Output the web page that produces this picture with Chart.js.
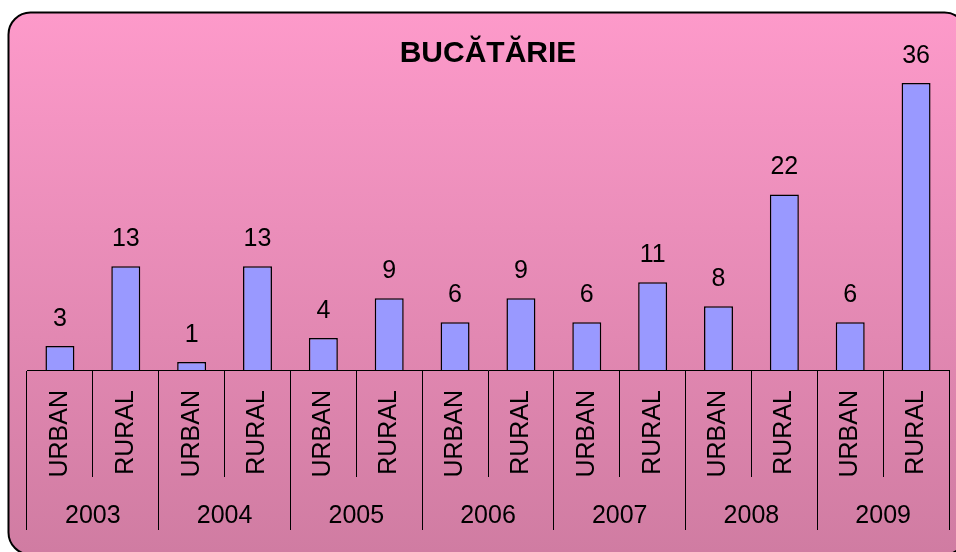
<!DOCTYPE html>
<html>
<head>
<meta charset="utf-8">
<script src="https://cdn.jsdelivr.net/npm/chart.js@4"></script>
<style>
  body { margin: 0; background: #fff; }
  canvas { display: block; }
</style>
</head>
<body>
<canvas id="chart" width="956" height="552"></canvas>
<script>
const years = ['2003', '2004', '2005', '2006', '2007', '2008', '2009'];
const areas = ['URBAN', 'RURAL'];
const urban = [3, 1, 4, 6, 6, 8, 6];
const rural = [13, 13, 9, 9, 11, 22, 36];

// one slot per year and area, in the same order as the sub labels
const subLabels = [];
const values = [];
years.forEach((y, i) => {
    subLabels.push(areas[0], areas[1]);
    values.push(urban[i], rural[i]);
});

const FONT = "'Liberation Sans', Arial, sans-serif";

const background = {
    id: 'background',
    beforeDraw(chart) {
        const ctx = chart.ctx;
        const grad = ctx.createLinearGradient(0, 12, 0, 552);
        grad.addColorStop(0, '#fd9aca');
        grad.addColorStop(1, '#d07ca2');
        ctx.save();
        ctx.beginPath();
        ctx.roundRect(8.5, 12.5, 958, 542, 22);
        ctx.fillStyle = grad;
        ctx.fill();
        ctx.lineWidth = 2;
        ctx.strokeStyle = '#000';
        ctx.stroke();
        ctx.restore();
    }
};

const valueLabels = {
    id: 'valueLabels',
    afterDatasetsDraw(chart) {
        const ctx = chart.ctx;
        const meta = chart.getDatasetMeta(0);
        ctx.save();
        ctx.font = '25px ' + FONT;
        ctx.fillStyle = '#000';
        ctx.textAlign = 'center';
        ctx.textBaseline = 'middle';
        meta.data.forEach((bar, i) => {
            ctx.fillText(values[i], bar.x, bar.y - 27);
        });
        ctx.restore();
    }
};

new Chart(document.getElementById('chart'), {
    type: 'bar',
    data: {
        labels: subLabels,
        datasets: [{
            data: values,
            backgroundColor: '#9999ff',
            borderColor: '#000',
            borderWidth: 1.5,
            categoryPercentage: 0.44,
            barPercentage: 1
        }]
    },
    options: {
        responsive: false,
        animation: false,
        layout: { padding: { left: 27, right: 7, top: 0, bottom: 22 } },
        plugins: {
            legend: { display: false },
            tooltip: { enabled: false },
            title: {
                display: true,
                text: 'BUCĂTĂRIE',
                fullSize: false,
                color: '#000',
                font: { family: FONT, size: 30, weight: 'bold' },
                padding: { top: 36, bottom: 3 }
            }
        },
        scales: {
            y: {
                display: false,
                min: 0,
                max: 37
            },
            x: {
                position: 'bottom',
                offset: true,
                grid: {
                    offset: true,
                    drawOnChartArea: false,
                    tickLength: 107,
                    color: '#000',
                    lineWidth: 1
                },
                border: { display: true, color: '#000', width: 1 },
                ticks: {
                    autoSkip: false,
                    minRotation: 90,
                    maxRotation: 90,
                    padding: -87,
                    color: '#000',
                    font: { family: FONT, size: 25 }
                },
                afterFit(scale) { scale.height = 107; }
            },
            x2: {
                type: 'category',
                position: 'bottom',
                labels: years,
                offset: true,
                grid: {
                    offset: true,
                    drawOnChartArea: false,
                    tickLength: 53,
                    color: '#000',
                    lineWidth: 1
                },
                border: { display: false },
                ticks: {
                    autoSkip: false,
                    maxRotation: 0,
                    padding: -29,
                    color: '#000',
                    font: { family: FONT, size: 25 }
                },
                afterFit(scale) { scale.height = 53; }
            }
        }
    },
    plugins: [background, valueLabels]
});
</script>
</body>
</html>
